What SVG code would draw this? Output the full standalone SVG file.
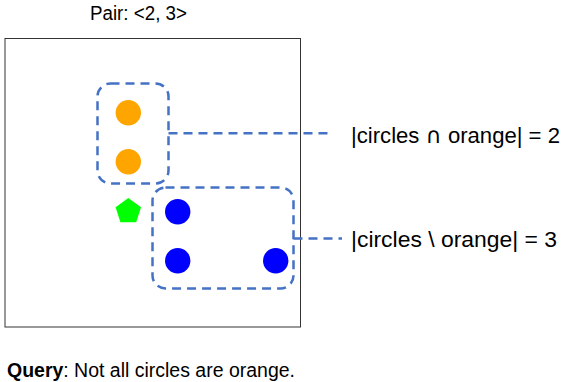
<svg xmlns="http://www.w3.org/2000/svg" width="564" height="382" viewBox="0 0 564 382">
<style>
text{font-family:"Liberation Sans","DejaVu Sans",sans-serif;fill:#000}
.lbl{font-size:22px}
.sm{font-size:19.5px}
.sym{font-family:"DejaVu Sans",sans-serif}
.grp{fill:none;stroke:#4472C4;stroke-width:2.5;stroke-dasharray:9 6}
.orange{fill:#FFA500}
.blue{fill:#0000FF}
</style>
<rect width="564" height="382" fill="#fff"/>
<text x="90" y="20" class="sm" textLength="97" lengthAdjust="spacingAndGlyphs">Pair: &lt;2, 3&gt;</text>
<rect id="frame" x="5" y="38.5" width="295.5" height="288.5" fill="none" stroke="#333" stroke-width="1"/>
<g id="orange1"><circle cx="128.3" cy="112.7" r="12.7" class="orange"/></g>
<g id="orange2"><circle cx="128.3" cy="161.7" r="12.7" class="orange"/></g>
<g id="pentagon"><polygon points="128.3,198 141,207.2 136.2,222.2 120.4,222.2 115.6,207.2" fill="#00FF00"/></g>
<g id="blue1"><circle cx="177.7" cy="211.7" r="12.7" class="blue"/></g>
<g id="blue2"><circle cx="177.7" cy="260.7" r="12.7" class="blue"/></g>
<g id="blue3"><circle cx="275.7" cy="260.7" r="12.7" class="blue"/></g>
<g id="groupOrange"><rect x="97.5" y="83.5" width="71" height="100" rx="13" class="grp"/></g>
<g id="groupBlue"><rect x="152.5" y="187.5" width="141" height="101" rx="13" class="grp"/></g>
<g id="connectors">
<line x1="168.5" y1="133.3" x2="330" y2="133.3" class="grp"/>
<line x1="293.5" y1="238.5" x2="342" y2="238.5" class="grp"/>
</g>
<g id="label1"><text x="351" y="142.5" class="lbl" textLength="209" lengthAdjust="spacingAndGlyphs">|circles <tspan class="sym">∩</tspan> orange| = 2</text></g>
<g id="label2"><text x="351" y="246.5" class="lbl" textLength="206" lengthAdjust="spacingAndGlyphs">|circles \ orange| = 3</text></g>
<text x="7" y="376.5" class="sm" textLength="288" lengthAdjust="spacingAndGlyphs"><tspan font-weight="bold">Query</tspan>: Not all circles are orange.</text>
</svg>
